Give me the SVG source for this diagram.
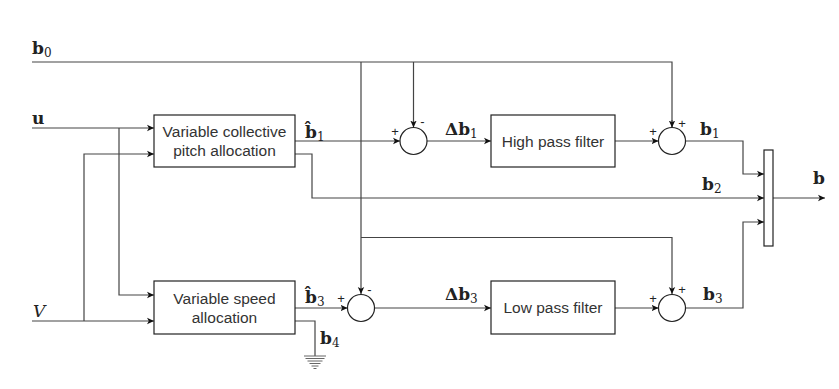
<svg xmlns="http://www.w3.org/2000/svg" width="839" height="389" viewBox="0 0 839 389">
<defs>
<marker id="ar" markerWidth="8" markerHeight="8" refX="7" refY="4" orient="auto" markerUnits="userSpaceOnUse">
<path d="M0,0.8 L7,4 L0,7.2 L1.8,4 z" fill="#111"/>
</marker>
<style>
.w{fill:none;stroke:#444;stroke-width:1.2}
.box{fill:#fff;stroke:#222;stroke-width:1.2}
.t{font-family:"Liberation Sans",Arial,sans-serif;font-size:15.5px;fill:#333;text-anchor:middle}
.m{font-family:"DejaVu Serif","Liberation Serif",serif;font-weight:bold;font-size:17px;fill:#222}
.s{font-family:"DejaVu Serif","Liberation Serif",serif;font-weight:normal;font-size:12px;fill:#222}
.sg{font-family:"Liberation Sans",Arial,sans-serif;font-size:13px;fill:#222;text-anchor:middle}
.g{stroke:#666;stroke-width:1}
</style>
</defs>
<g id="connectors">
<path class="w" d="M32,62 H672 V127"/>
<path class="w" d="M361,62 V294" marker-end="url(#ar)"/>
<path class="w" d="M413.5,62 V127.5" marker-end="url(#ar)"/>
<path class="w" d="M672,120 V127.5" marker-end="url(#ar)"/>
<path class="w" d="M361,237.5 H672 V294" marker-end="url(#ar)"/>
<path class="w" d="M32,128 H154" marker-end="url(#ar)"/>
<path class="w" d="M119,128 V295 H154" marker-end="url(#ar)"/>
<path class="w" d="M32,321 H154" marker-end="url(#ar)"/>
<path class="w" d="M84,321 V154 H154" marker-end="url(#ar)"/>
<path class="w" d="M295,141 H400" marker-end="url(#ar)"/>
<path class="w" d="M295,154 H312 V198 H764" marker-end="url(#ar)"/>
<path class="w" d="M427,141 H491" marker-end="url(#ar)"/>
<path class="w" d="M615,141 H658.5" marker-end="url(#ar)"/>
<path class="w" d="M685.5,141 H743 V174 H764" marker-end="url(#ar)"/>
<path class="w" d="M773,198 H825" marker-end="url(#ar)"/>
<path class="w" d="M295,308 H347.5" marker-end="url(#ar)"/>
<path class="w" d="M374.5,308 H491" marker-end="url(#ar)"/>
<path class="w" d="M615,308 H658.5" marker-end="url(#ar)"/>
<path class="w" d="M685.5,308 H743 V222 H764" marker-end="url(#ar)"/>
<path class="w" d="M295,321 H315 V356"/>
</g>
<g id="ground">
<line class="g" x1="304" y1="356" x2="326" y2="356"/>
<line class="g" x1="305.5" y1="358.5" x2="324.5" y2="358.5"/>
<line class="g" x1="307.5" y1="361" x2="322.5" y2="361"/>
<line class="g" x1="309.5" y1="363.5" x2="320.5" y2="363.5"/>
<line class="g" x1="311.5" y1="366" x2="318.5" y2="366"/>
<line class="g" x1="313.5" y1="368.5" x2="316.5" y2="368.5"/>
</g>
<g id="box1">
<rect class="box" x="154" y="115" width="141" height="52"/>
<text class="t" x="224.5" y="137">Variable collective</text>
<text class="t" x="224.5" y="155.5">pitch allocation</text>
</g>
<g id="box2">
<rect class="box" x="154" y="281" width="141" height="53"/>
<text class="t" x="224.5" y="304">Variable speed</text>
<text class="t" x="224.5" y="322.5">allocation</text>
</g>
<g id="hpf">
<rect class="box" x="491" y="115" width="124" height="52"/>
<text class="t" x="553" y="146.5">High pass filter</text>
</g>
<g id="lpf">
<rect class="box" x="491" y="281" width="124" height="53"/>
<text class="t" x="553" y="313">Low pass filter</text>
</g>
<g id="sum1">
<circle class="box" cx="413.5" cy="141" r="13.5"/>
<text class="sg" x="395" y="136">+</text>
<text class="sg" x="422.5" y="126">-</text>
</g>
<g id="sum2">
<circle class="box" cx="672" cy="141" r="13.5"/>
<text class="sg" x="653" y="136">+</text>
<text class="sg" x="682" y="127.5">+</text>
</g>
<g id="sum3">
<circle class="box" cx="361" cy="308" r="13.5"/>
<text class="sg" x="341" y="303">+</text>
<text class="sg" x="369.5" y="294">-</text>
</g>
<g id="sum4">
<circle class="box" cx="672" cy="308" r="13.5"/>
<text class="sg" x="653" y="303">+</text>
<text class="sg" x="682" y="294">+</text>
</g>
<g id="mux">
<rect class="box" x="764" y="150" width="9" height="96"/>
</g>
<g id="labels">
<text class="m" x="32" y="54">b<tspan class="s" dy="3">0</tspan></text>
<text class="m" x="32" y="123.5">u</text>
<text class="m" x="33" y="317" style="font-style:italic;font-weight:normal">V</text>
<text class="m" x="305" y="137.5">b̂<tspan class="s" dy="3">1</tspan></text>
<text class="m" x="305" y="302.5">b̂<tspan class="s" dy="3">3</tspan></text>
<text class="m" x="445" y="134.5">Δb<tspan class="s" dy="3">1</tspan></text>
<text class="m" x="445" y="299.5">Δb<tspan class="s" dy="3">3</tspan></text>
<text class="m" x="700" y="134.5">b<tspan class="s" dy="3">1</tspan></text>
<text class="m" x="702" y="190">b<tspan class="s" dy="3">2</tspan></text>
<text class="m" x="703" y="300">b<tspan class="s" dy="3">3</tspan></text>
<text class="m" x="320" y="344">b<tspan class="s" dy="3">4</tspan></text>
<text class="m" x="813" y="184">b</text>
</g>
</svg>
